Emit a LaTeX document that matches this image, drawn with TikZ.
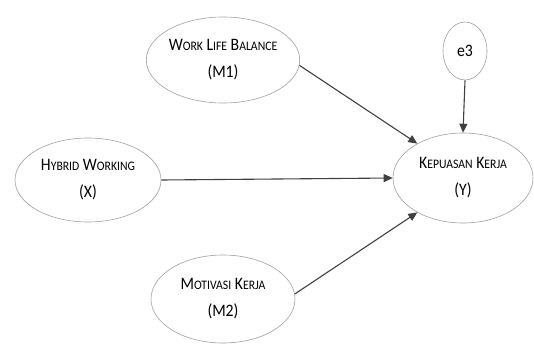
\documentclass[tikz,border=0pt]{standalone}
\usepackage{fontspec}
\setmainfont{Carlito}[FakeStretch=0.9]
\usepackage{tikz}
\usetikzlibrary{positioning,arrows.meta,shapes.geometric}
\newcommand{\smc}[1]{{\fontsize{13}{13}\selectfont #1}}

\begin{document}
\begin{tikzpicture}[
  x=1pt, y=-1pt,
  font=\fontsize{17.5}{27}\selectfont,
  every node/.style={align=center},
  var/.style={draw=gray!75, ellipse, inner sep=0pt, line width=0.6pt, minimum width=144pt, minimum height=86pt},
  err/.style={var, minimum width=44pt, minimum height=58pt},
  path/.style={-{Triangle[length=9pt,width=8pt]}, draw=black!75, line width=1.1pt}
]
\useasboundingbox (0,0) rectangle (534,345);

\node[var] (m1) at (223,60) {W\smc{ORK} L\smc{IFE} B\smc{ALANCE}\\(M1)};
\node[var, minimum width=146pt, minimum height=84pt] (x) at (88,180) {H\smc{YBRID} W\smc{ORKING}\\(X)};
\node[var, minimum width=140pt, minimum height=90pt] (y) at (463,178) {K\smc{EPUASAN} K\smc{ERJA}\\(Y)};
\node[var, minimum height=88pt] (m2) at (223,299) {M\smc{OTIVASI} K\smc{ERJA}\\(M2)};
\node[err] (e3) at (465,51) {e3};

\draw[path] (m1.-4) -- (y.143);
\draw[path] (x.east) -- (y.west);
\draw[path] (m2.4) -- (y.217);
\draw[path] (e3.south) -- (y.north);
\end{tikzpicture}
\end{document}
